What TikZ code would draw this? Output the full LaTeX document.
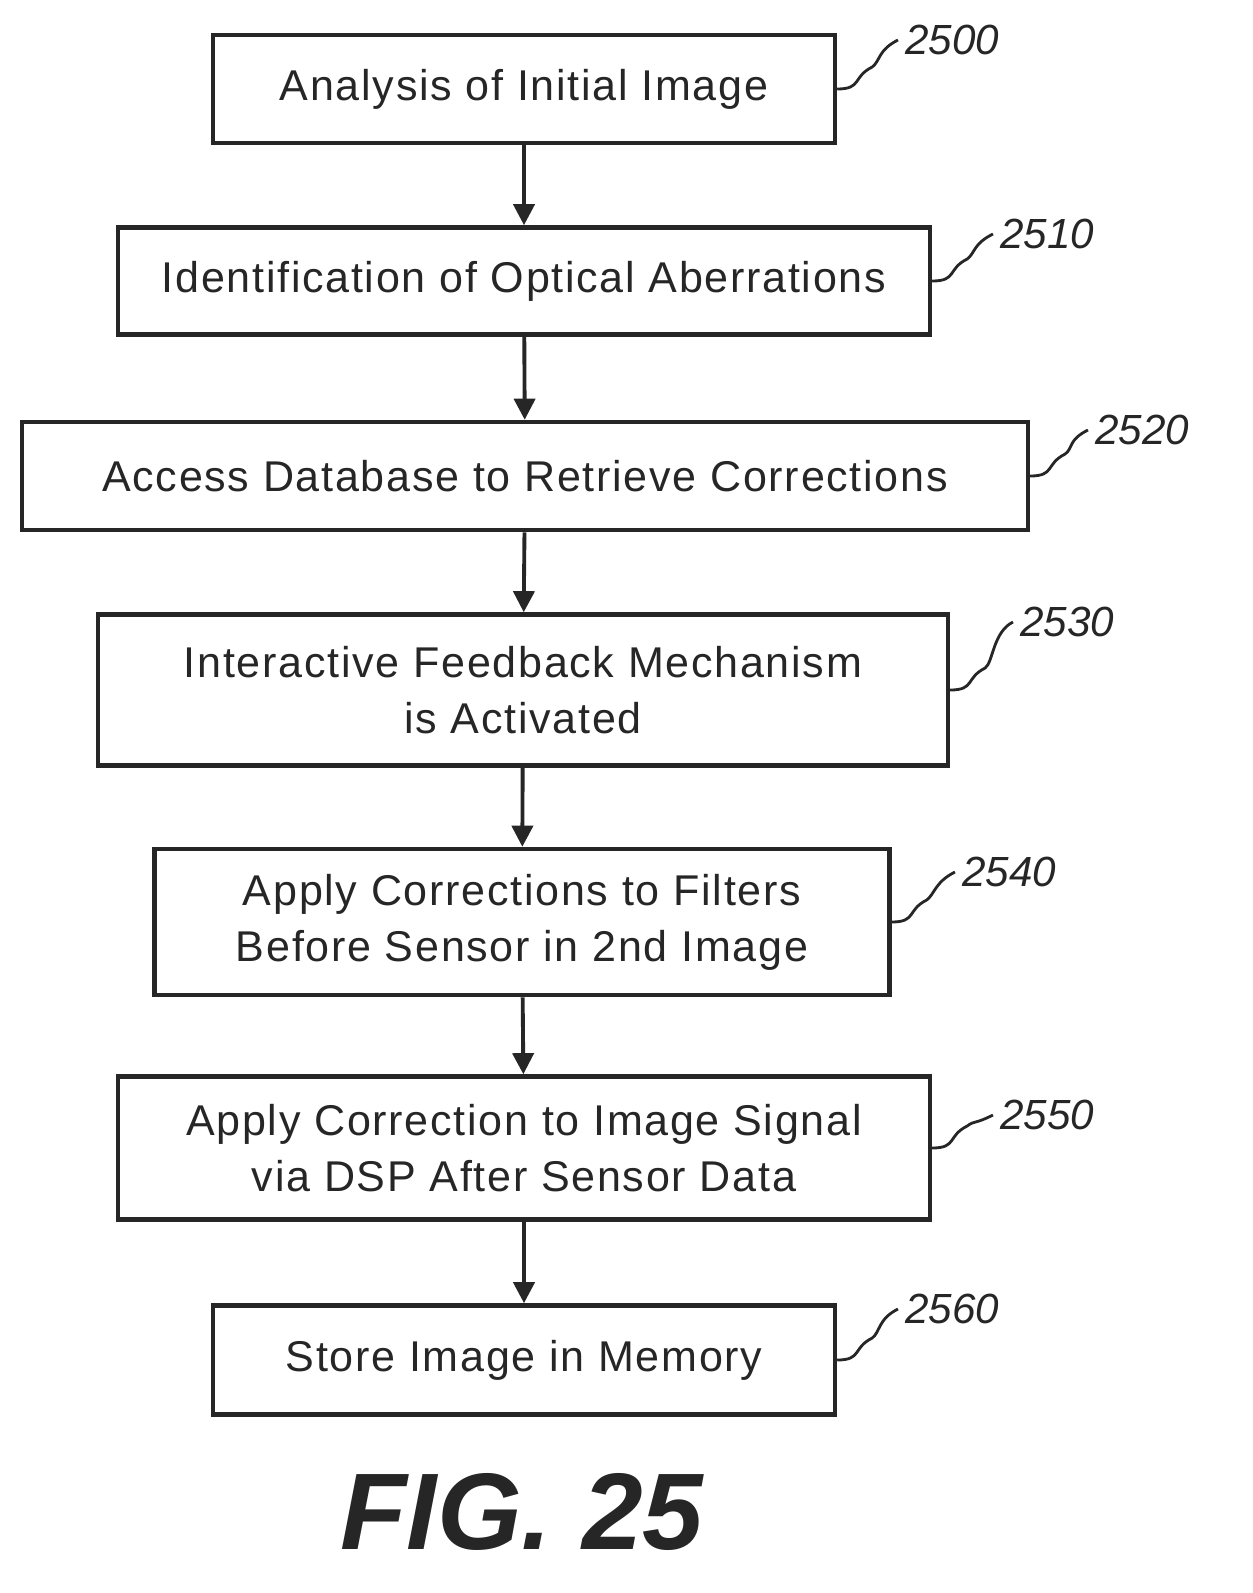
\documentclass[tikz,border=0pt]{standalone}
\usepackage{fontspec}
\setmainfont{Liberation Sans}
\usetikzlibrary{arrows.meta}
\begin{document}
\begin{tikzpicture}[x=0.02cm,y=-0.02cm,
  box/.style={draw=black!85,line width=2.6pt,fill=white,align=center,inner sep=0pt,
    font=\addfontfeatures{LetterSpace=4}\fontsize{24.5}{32}\selectfont,text=black!85},
  lab/.style={font=\itshape\fontsize{24}{28}\selectfont,anchor=west,inner sep=0pt,text=black!85},
  arr/.style={line width=2.2pt,draw=black!85,-{Triangle[length=12pt,width=12pt]}},
  lead/.style={line width=1.6pt,draw=black!85}]
\useasboundingbox (0,0) rectangle (1252,1593);
\node[box,minimum width=12.44cm,minimum height=2.16cm] (b0) at (524,89) {Analysis of Initial Image};
\node[box,minimum width=16.24cm,minimum height=2.14cm] (b1) at (524,281) {Identification of Optical Aberrations};
\node[box,minimum width=20.12cm,minimum height=2.16cm] (b2) at (525,476) {Access Database to Retrieve Corrections};
\node[box,minimum width=17.0cm,minimum height=3.02cm] (b3) at (523,690) {Interactive Feedback Mechanism\\is Activated};
\node[box,minimum width=14.7cm,minimum height=2.92cm] (b4) at (522,922) {Apply Corrections to Filters\\Before Sensor in 2nd Image};
\node[box,minimum width=16.24cm,minimum height=2.86cm] (b5) at (524,1148) {Apply Correction to Image Signal\\via DSP After Sensor Data};
\node[box,minimum width=12.44cm,minimum height=2.18cm] (b6) at (524,1360) {Store Image in Memory};
\foreach \a/\b in {b0/b1,b1/b2,b2/b3,b3/b4,b4/b5,b5/b6} \draw[arr] (\a) -- (\b);
\foreach \n/\t/\x/\y in {b0/2500/905/40,b1/2510/1000/234,b2/2520/1095/430,b3/2530/1020/622,b4/2540/962/872,b5/2550/1000/1115,b6/2560/905/1309}{
  \node[lab] (l\n) at (\x,\y) {\t};
  \draw[lead] (\n.east) .. controls ++(25,0) and ++(-20,10) .. ++(35,-22) .. controls ++(8,-6) and ++(-20,10) .. ([xshift=-4pt]l\n.west);
}
\node[font=\bfseries\itshape\fontsize{62}{66}\selectfont,text=black!85] (fig) at (522,1512) {FIG. 25};
\end{tikzpicture}
\end{document}
